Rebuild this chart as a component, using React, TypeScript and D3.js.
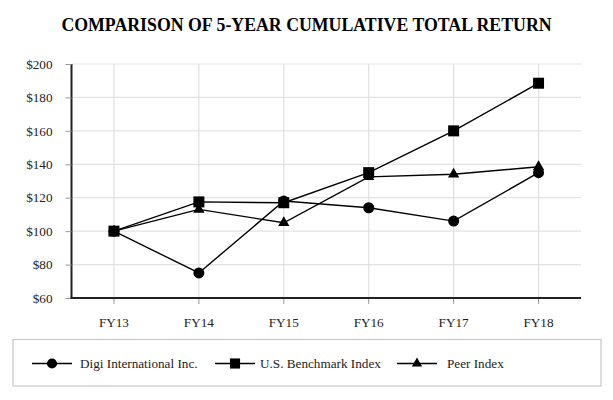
import { useEffect, useRef } from 'react';
import * as d3 from 'd3';

const YEARS = ['FY13', 'FY14', 'FY15', 'FY16', 'FY17', 'FY18'];
const DIGI = [100, 75, 118, 114, 106, 135];
const BENCHMARK = [100, 117.5, 117, 135, 160, 188.5];
const PEER = [100, 113, 105, 132.5, 134, 138.5];
const Y_TICKS = [60, 80, 100, 120, 140, 160, 180, 200];

const SERIES = [
  { name: 'Digi International Inc.', values: DIGI, symbol: d3.symbolCircle, size: 95 },
  { name: 'U.S. Benchmark Index', values: BENCHMARK, symbol: d3.symbolSquare, size: 121 },
  { name: 'Peer Index', values: PEER, symbol: d3.symbolTriangle, size: 55 },
];

const W = 613;
const H = 400;
const FONT = '"Liberation Serif", "Times New Roman", serif';

export default function App() {
  const svgRef = useRef<SVGSVGElement>(null);

  useEffect(() => {
    if (!svgRef.current) return;
    const svg = d3.select(svgRef.current);
    svg.selectAll('*').remove();

    const left = 71.5;
    const right = 581;
    const top = 64;
    const bottom = 298;

    const x = d3.scaleBand<string>().domain(YEARS).range([left, right]);
    const y = d3.scaleLinear().domain([60, 200]).range([bottom, top]);
    const cx = (d: string) => (x(d) ?? 0) + x.bandwidth() / 2;

    svg
      .append('text')
      .attr('x', W / 2)
      .attr('y', 31)
      .attr('text-anchor', 'middle')
      .style('font-family', FONT)
      .style('font-weight', '700')
      .style('font-size', '17.8px')
      .text('COMPARISON OF 5-YEAR CUMULATIVE TOTAL RETURN');

    // grid
    const grid = svg.append('g');
    grid
      .selectAll('line.h')
      .data(Y_TICKS)
      .join('line')
      .attr('x1', left)
      .attr('x2', right)
      .attr('y1', (d) => y(d))
      .attr('y2', (d) => y(d))
      .attr('stroke', '#e3e3e3')
      .attr('stroke-width', 1.2);
    grid
      .selectAll('line.v')
      .data(YEARS)
      .join('line')
      .attr('x1', cx)
      .attr('x2', cx)
      .attr('y1', top)
      .attr('y2', bottom)
      .attr('stroke', '#e0e0e0')
      .attr('stroke-width', 1.2);
    // small ticks below the x axis
    grid
      .selectAll('line.t')
      .data(YEARS)
      .join('line')
      .attr('x1', cx)
      .attr('x2', cx)
      .attr('y1', bottom)
      .attr('y2', bottom + 6)
      .attr('stroke', '#999')
      .attr('stroke-width', 1);

    // y axis
    const yAxis = svg
      .append('g')
      .attr('transform', `translate(${left},0)`)
      .call(
        d3
          .axisLeft(y)
          .tickValues(Y_TICKS)
          .tickSize(6)
          .tickPadding(13)
          .tickFormat((d) => `$${d}`),
      );
    yAxis.select('.domain').attr('stroke', '#222').attr('stroke-width', 2).attr('d', `M0,${top}V${bottom}`);
    yAxis.selectAll('.tick line').attr('stroke', '#999');
    yAxis
      .selectAll('.tick text')
      .style('font-family', FONT)
      .style('font-size', '13.2px')
      .attr('fill', '#222');

    // x axis
    svg
      .append('line')
      .attr('x1', left - 1)
      .attr('x2', right)
      .attr('y1', bottom)
      .attr('y2', bottom)
      .attr('stroke', '#222')
      .attr('stroke-width', 2);
    svg
      .append('g')
      .selectAll('text')
      .data(YEARS)
      .join('text')
      .attr('x', cx)
      .attr('y', 327)
      .attr('text-anchor', 'middle')
      .style('font-family', FONT)
      .style('font-size', '13.2px')
      .attr('fill', '#222')
      .text((d) => d);

    // lines
    const line = d3
      .line<number>()
      .x((_, i) => cx(YEARS[i]))
      .y((d) => y(d));

    SERIES.forEach((s) => {
      svg
        .append('path')
        .attr('d', line(s.values))
        .attr('fill', 'none')
        .attr('stroke', '#000')
        .attr('stroke-width', 1.4);
    });
    SERIES.forEach((s) => {
      svg
        .append('g')
        .selectAll('path')
        .data(s.values)
        .join('path')
        .attr('transform', (d, i) => `translate(${cx(YEARS[i])},${y(d)})`)
        .attr('d', d3.symbol().type(s.symbol).size(s.size)())
        .attr('fill', '#000');
    });

    // legend
    const legend = svg.append('g');
    legend
      .append('rect')
      .attr('x', 13)
      .attr('y', 339.5)
      .attr('width', 588)
      .attr('height', 46.5)
      .attr('fill', '#fff')
      .attr('stroke', '#c8c8c8')
      .attr('stroke-width', 1.2);

    const legendX = [32, 215, 397];
    SERIES.forEach((s, i) => {
      const g = legend.append('g').attr('transform', `translate(${legendX[i]},363.5)`);
      g.append('line').attr('x1', 0).attr('x2', 40).attr('stroke', '#000').attr('stroke-width', 1.4);
      g.append('path')
        .attr('transform', 'translate(20,0)')
        .attr('d', d3.symbol().type(s.symbol).size(s.size * 0.85)())
        .attr('fill', '#000');
      g.append('text')
        .attr('x', i === 0 ? 48 : i === 1 ? 45 : 50)
        .attr('y', 4.5)
        .style('font-family', FONT)
        .style('font-size', '13.2px')
        .attr('fill', '#222')
        .text(s.name);
    });
  }, []);

  return (
    <svg
      ref={svgRef}
      width={W}
      height={H}
      viewBox={`0 0 ${W} ${H}`}
      style={{ position: 'absolute', left: 0, top: 0, background: '#fff' }}
    />
  );
}
